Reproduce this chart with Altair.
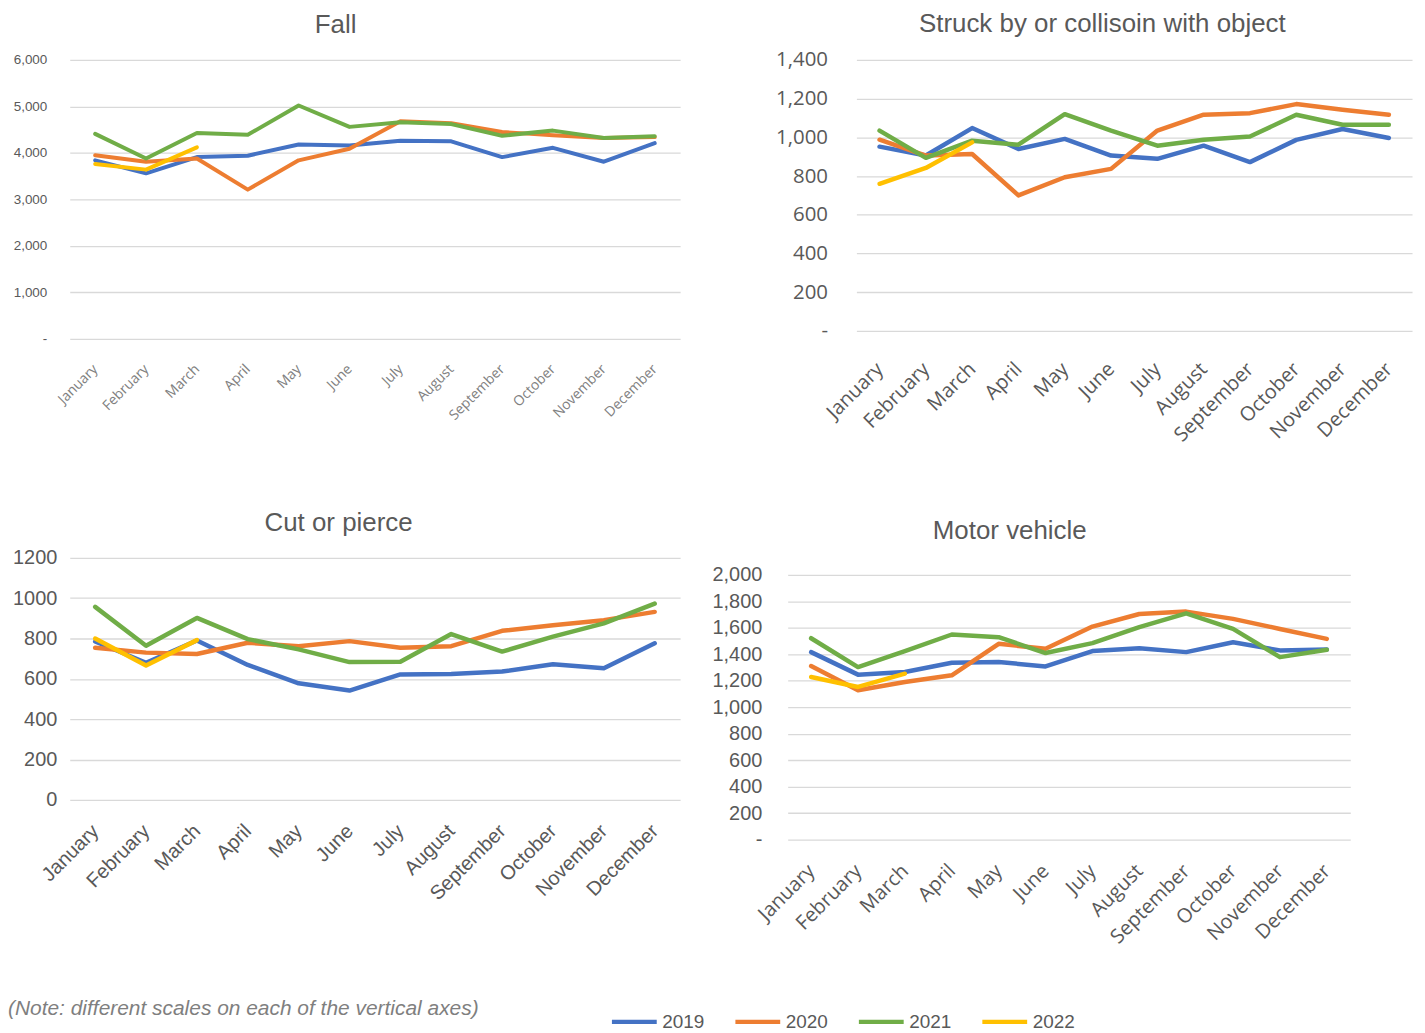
import altair as alt
import pandas as pd

months = ["January", "February", "March", "April", "May", "June", "July",
          "August", "September", "October", "November", "December"]
years = ["2019", "2020", "2021", "2022"]
colors = ["#4472C4", "#ED7D31", "#70AD47", "#FFC000"]

fall_2019 = [3840, 3560, 3910, 3940, 4180, 4160, 4260, 4250, 3910, 4110, 3810, 4210]
fall_2020 = [3950, 3810, 3880, 3210, 3840, 4090, 4680, 4640, 4450, 4380, 4320, 4340]
fall_2021 = [4410, 3880, 4430, 4390, 5020, 4560, 4660, 4620, 4370, 4480, 4320, 4360]
fall_2022 = [3760, 3640, 4120]

struck_2019 = [952, 906, 1048, 940, 992, 906, 889, 957, 872, 987, 1043, 997]
struck_2020 = [988, 906, 914, 700, 794, 837, 1035, 1117, 1125, 1172, 1143, 1117]
struck_2021 = [1035, 894, 983, 962, 1120, 1035, 957, 988, 1004, 1117, 1065, 1065]
struck_2022 = [760, 842, 974]

cut_2019 = [785, 680, 790, 669, 578, 542, 622, 624, 636, 672, 652, 776]
cut_2020 = [754, 730, 723, 779, 762, 787, 754, 762, 838, 866, 891, 932]
cut_2021 = [957, 764, 902, 797, 746, 683, 685, 822, 735, 809, 875, 973]
cut_2022 = [800, 666, 792]

motor_2019 = [1416, 1246, 1266, 1336, 1341, 1308, 1424, 1446, 1416, 1491, 1429, 1436]
motor_2020 = [1311, 1128, 1190, 1241, 1479, 1441, 1609, 1704, 1722, 1667, 1591, 1516]
motor_2021 = [1521, 1303, 1424, 1549, 1529, 1409, 1484, 1604, 1709, 1591, 1378, 1434]
motor_2022 = [1228, 1153, 1253]

note_text = "(Note: different scales on each of the vertical axes)"

GRAY = "#595959"


def make_df(series):
    rows = []
    for year, vals in zip(years, series):
        for m, v in zip(months, vals):
            rows.append({"month": m, "year": year, "value": v})
    return pd.DataFrame(rows)


legend = alt.Legend(
    orient="none", legendX=-62, legendY=941, direction="horizontal", columns=4,
    title=note_text, titleOrient="left", titleFont="Liberation Sans", titleFontSize=21,
    titleFontStyle="italic", titleFontWeight="normal", titleColor="#7f7f7f",
    titlePadding=131, titleLimit=900, titleBaseline="alphabetic",
    symbolType="stroke", symbolSize=2025, symbolStrokeWidth=4.5,
    labelFont="Liberation Sans", labelFontSize=19, labelColor=GRAY,
    labelOffset=3, columnPadding=21,
)


def panel(series, title, tdx, toff, w, h, ymax, ystep, yexpr, yfont, yfs, ypad,
          xfont, xfs, xcolor, xpad, sw, ytitle_pad=None, push=None):
    df = make_df(series)
    yaxis_kw = dict(
        title=None, values=list(range(0, ymax + 1, ystep)), labelExpr=yexpr,
        labelFont=yfont, labelFontSize=yfs, labelColor=GRAY, labelPadding=ypad,
        ticks=False, tickSize=0, domain=False, grid=True, gridColor="#d9d9d9",
        gridWidth=1.3,
    )
    if ytitle_pad is not None:
        yaxis_kw.update(title=".", titleOpacity=0, titleFontSize=10,
                        titlePadding=ytitle_pad)
    title_kw = dict(text=title, font="Liberation Sans", fontSize=26,
                    fontWeight="normal", color=GRAY, anchor="middle",
                    dx=tdx, offset=toff)
    if push:
        title_kw.update(text=["", title], lineHeight=push)
    return alt.Chart(df).mark_line(strokeWidth=sw, strokeCap="round",
                                   strokeJoin="round").encode(
        x=alt.X("month:N", sort=months,
                scale=alt.Scale(type="point", padding=0.5),
                axis=alt.Axis(title=None, labelAngle=-45, labelAlign="right",
                              labelBaseline="middle", labelFont=xfont,
                              labelFontSize=xfs, labelColor=xcolor,
                              labelPadding=xpad, ticks=False, tickSize=0,
                              domain=False, grid=False, labelOverlap=False)),
        y=alt.Y("value:Q", scale=alt.Scale(domain=[0, ymax], nice=False),
                axis=alt.Axis(**yaxis_kw)),
        color=alt.Color("year:N", scale=alt.Scale(domain=years, range=colors),
                        legend=legend),
        detail="year:N",
    ).properties(
        width=w, height=h,
        title=alt.TitleParams(**title_kw),
    )


dash_expr = "datum.value == 0 ? '-' : format(datum.value, ',')"

fall = panel([fall_2019, fall_2020, fall_2021, fall_2022], "Fall", -39.5, 15,
             613, 280, 6000, 1000, dash_expr, "Liberation Sans", 13.5, 23,
             "Open Sans", 14, "#808080", 28, 4)

struck = panel([struck_2019, struck_2020, struck_2021, struck_2022],
               "Struck by or collisoin with object", -32, 13,
               558, 272, 1400, 200, dash_expr, "Open Sans", 20.5, 29,
               "Open Sans", 20, GRAY, 35, 4.5, ytitle_pad=54)

cut = panel([cut_2019, cut_2020, cut_2021, cut_2022], "Cut or pierce", -36.5, 12,
            613, 243, 1200, 200, "format(datum.value, 'd')", "Liberation Sans", 20, 13,
            "Liberation Sans", 20, GRAY, 28, 4.5)

motor = panel([motor_2019, motor_2020, motor_2021, motor_2022], "Motor vehicle", -59.5, 21,
              565, 266, 2000, 200, dash_expr, "Liberation Sans", 20, 26,
              "Open Sans", 20, GRAY, 28, 4.5, push=8)

chart = alt.concat(
    fall, struck, cut, motor, columns=2, align="none", bounds="full",
    spacing=alt.RowColnumber(row=65, column=31),
).properties(
    padding={"left": 0, "top": 1, "right": 5, "bottom": 5},
).configure_view(stroke=None)

chart.save("out.html", embed_options={"renderer": "svg", "actions": False})
